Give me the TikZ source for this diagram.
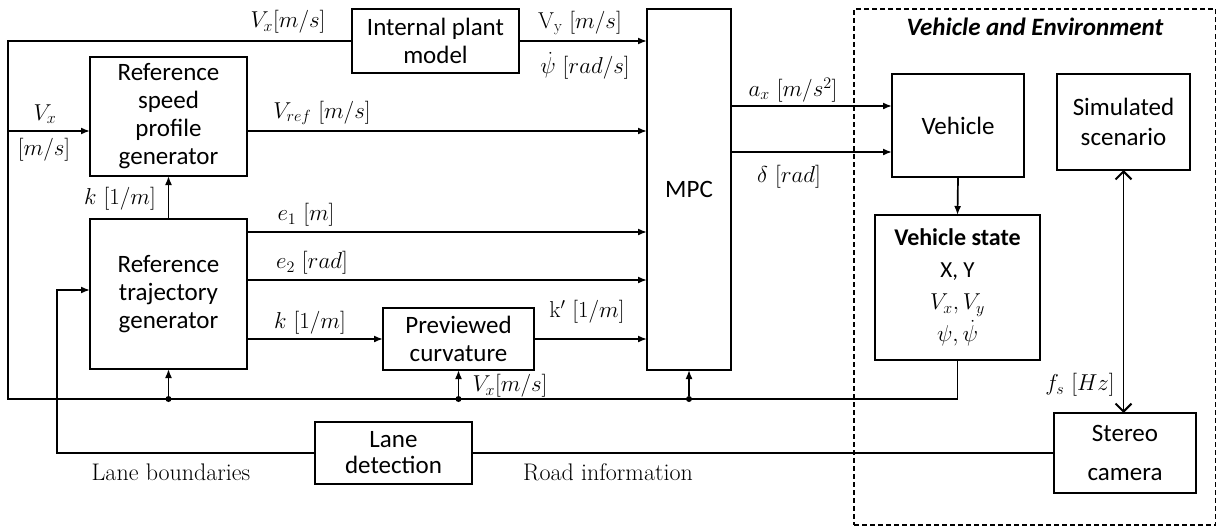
\RequirePackage{fix-cm}
\documentclass[tikz,border=0pt]{standalone}
\usepackage{fontspec}
\newfontfamily\calib{Carlito}
\usetikzlibrary{arrows.meta,calc}
\tikzset{
  blk/.style={draw, line width=1.7pt, inner sep=0pt, outer sep=0pt, align=center,
    font=\calib\fontsize{25}{28}\selectfont},
  conn/.style={line width=1.7pt},
  arr/.style={conn, -{Latex[length=9pt,width=7pt]}},
  lbl/.style={inner sep=0pt, font=\fontsize{23}{26}\selectfont},
  txt/.style={inner sep=0pt, font=\fontsize{24}{27}\selectfont},
  jdot/.style={circle, fill, inner sep=0pt, minimum size=6pt},
  barb/.style={line width=1.3pt, {Straight Barb[length=8pt,width=16pt,line width=2pt]}-{Straight Barb[length=8pt,width=16pt,line width=2pt]}},
  envframe/.style={draw, line width=1.2pt, dash pattern=on 5pt off 3pt, inner sep=0pt, outer sep=0pt},
}
\begin{document}
\begin{tikzpicture}[x=1pt,y=-1pt]
\useasboundingbox (0,0) rectangle (1217,527);

% vehicle and environment frame
\node[envframe, minimum width=361.5pt, minimum height=516pt] (env) at (1034.75,267) {};
\node[inner sep=0pt, font=\calib\bfseries\itshape\fontsize{25}{28}\selectfont] (envt) at (1035,27) {Vehicle and Environment};

% blocks
\node[blk, minimum width=167pt, minimum height=64pt] (ipm) at (435.5,41) {Internal plant\\model};
\node[blk, minimum width=84pt, minimum height=361pt] (mpc) at (689,189.5) {MPC};
\node[blk, minimum width=157pt, minimum height=119pt] (rsp) at (168.5,116.5) {Reference\\speed\\profile\\generator};
\node[blk, minimum width=157pt, minimum height=150pt] (rtg) at (168.5,294) {Reference\\trajectory\\generator};
\node[blk, minimum width=151pt, minimum height=62pt] (pc) at (458.5,339) {Previewed\\curvature};
\node[blk, minimum width=157pt, minimum height=62pt, font=\calib\fontsize{25}{26}\selectfont] (lane) at (393.5,453) {Lane\\detection};
\node[blk, minimum width=132pt, minimum height=103pt] (veh) at (958,125.5) {Vehicle};
\node[blk, minimum width=133pt, minimum height=96pt, font=\calib\fontsize{25}{30}\selectfont] (sim) at (1123.5,122) {Simulated\\scenario};
\node[blk, minimum width=165pt, minimum height=145pt, font=\calib\fontsize{23}{32}\selectfont] (vs) at (957.5,287.5)
  {{\fontsize{24}{32}\selectfont\bfseries Vehicle state}\\X, Y\\$V_x, V_y$\\$\psi, \dot{\psi}$};
\node[blk, minimum width=142pt, minimum height=80pt, font=\calib\fontsize{25}{39}\selectfont] (cam) at (1125,453) {Stereo\\camera};

% feedback bus from the vehicle state
\coordinate (tl) at (8,41);
\coordinate (bl) at (8,399);
\draw[conn] (vs.south) |- (bl) -- (tl) -- (ipm.west);
\draw[arr] (ipm.east) -- (ipm.east -| mpc.west);

\coordinate (vxin) at (8,131);
\draw[arr] (vxin) -- (vxin -| rsp.west);
\draw[arr] (rsp.east |- vxin) -- (vxin -| mpc.west);
\draw[arr] (rtg.north) -- (rsp.south);

\coordinate (e1) at (rtg.east |- 0,232);
\coordinate (e2) at (rtg.east |- 0,280);
\draw[arr] (e1) -- (e1 -| mpc.west);
\draw[arr] (e2) -- (e2 -| mpc.west);
\draw[arr] (rtg.east |- pc.west) -- (pc.west);
\draw[arr] (pc.east) -- (pc.east -| mpc.west);

\node[jdot] (j1) at (rtg.south |- bl) {};
\node[jdot] (j2) at (pc.south |- bl) {};
\node[jdot] (j3) at (mpc.south |- bl) {};
\draw[arr] (j1) -- (rtg.south);
\draw[arr] (j2) -- (pc.south);
\draw[arr] (j3) -- (mpc.south);

% lane detection path
\coordinate (lin) at (57,290);
\draw[arr] (lane.west) -| (lin) -- (lin -| rtg.west);
\draw[conn] (cam.west) -- (lane.east);

% controls to the vehicle
\coordinate (ax) at (mpc.east |- 0,106);
\coordinate (dl) at (mpc.east |- 0,152);
\draw[arr] (ax) -- (ax -| veh.west);
\draw[arr] (dl) -- (dl -| veh.west);
\draw[arr] (veh.south) -- (vs.north);
\draw[barb] (sim.south) -- (sim.south |- cam.north);

% signal labels
\node[lbl] (l1) at (288,22) {$V_x[m/s]$};
\node[lbl] (l2) at (580,23) {$\mathrm{V_y}\ [m/s]$};
\node[lbl] (l3) at (585,66) {$\dot{\psi}\ [rad/s]$};
\node[lbl] (l4) at (45,114) {$V_x$};
\node[lbl] (l5) at (44,150) {$[m/s]$};
\node[lbl] (l6) at (322,113) {$V_{ref}\ [m/s]$};
\node[lbl] (l7) at (120,199) {$k\ [1/m]$};
\node[lbl] (l8) at (306,215) {$e_1\ [m]$};
\node[lbl] (l9) at (312,263) {$e_2\ [rad]$};
\node[lbl] (l10) at (310,323) {$k\ [1/m]$};
\node[lbl] (l11) at (587,312) {$\mathrm{k'}\ [1/m]$};
\node[lbl] (l12) at (510,386) {$V_x[m/s]$};
\node[lbl] (l13) at (793,90) {$a_x\ [m/s^2]$};
\node[lbl] (l14) at (789,177) {$\delta\ [rad]$};
\node[lbl] (l15) at (1080,385) {$f_s\ [Hz]$};
\node[txt] (l16) at (171,472) {Lane boundaries};
\node[txt] (l17) at (608,472) {Road information};
\end{tikzpicture}
\end{document}
